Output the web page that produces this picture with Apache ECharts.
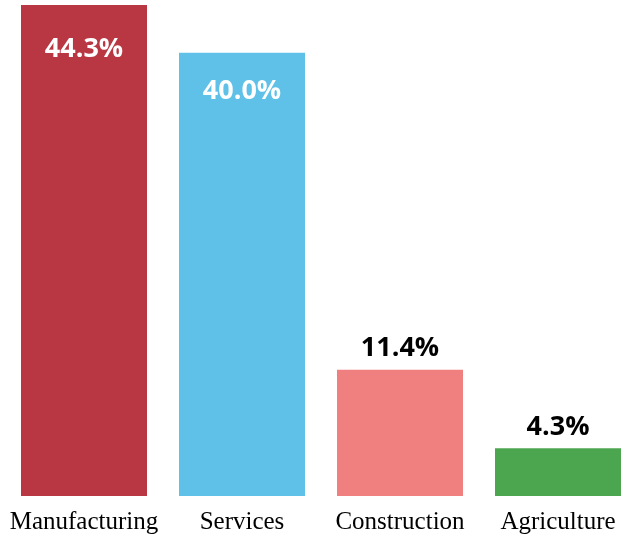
<!DOCTYPE html>
<html>
<head>
<meta charset="utf-8">
<script src="https://cdn.jsdelivr.net/npm/echarts@6/dist/echarts.min.js"></script>
<style>
  html, body { margin: 0; padding: 0; background: #fff; }
  #chart { width: 621px; height: 536px; }
</style>
</head>
<body>
<div id="chart"></div>
<script>
// Share of employment by sector (%)
const sectors = ['Manufacturing', 'Services', 'Construction', 'Agriculture'];
const shares = [44.3, 40.0, 11.4, 4.3];
const barColors = ['#B83742', '#60C1E8', '#F08080', '#4CA650'];
// Labels sit inside the two tall bars and above the two short ones
const labelInside = [true, true, false, false];

const chart = echarts.init(document.getElementById('chart'));

const data = shares.map((v, i) => ({
  value: v,
  itemStyle: { color: barColors[i] },
  label: labelInside[i]
    ? { position: 'insideTop', distance: i === 0 ? 31 : 25, color: '#fff' }
    : { position: 'top', distance: 8, color: '#000' }
}));

chart.setOption({
  animation: false,
  grid: {
    left: 5, top: 5, right: -16, bottom: 40,
    containLabel: false,
    outerBoundsMode: 'none'
  },
  xAxis: {
    type: 'category',
    data: sectors,
    axisLine: { show: false },
    axisTick: { show: false },
    axisLabel: {
      interval: 0,
      margin: 14,
      fontFamily: 'Liberation Serif',
      fontSize: 25,
      color: '#000'
    }
  },
  yAxis: {
    type: 'value',
    min: 0,
    max: 44.3,
    show: false,
    splitLine: { show: false }
  },
  series: [{
    type: 'bar',
    data: data,
    barWidth: 126,
    label: {
      show: true,
      fontFamily: 'Open Sans',
      fontWeight: 'bold',
      fontSize: 27,
      formatter: p => p.value.toFixed(1) + '%'
    }
  }]
});
</script>
</body>
</html>
